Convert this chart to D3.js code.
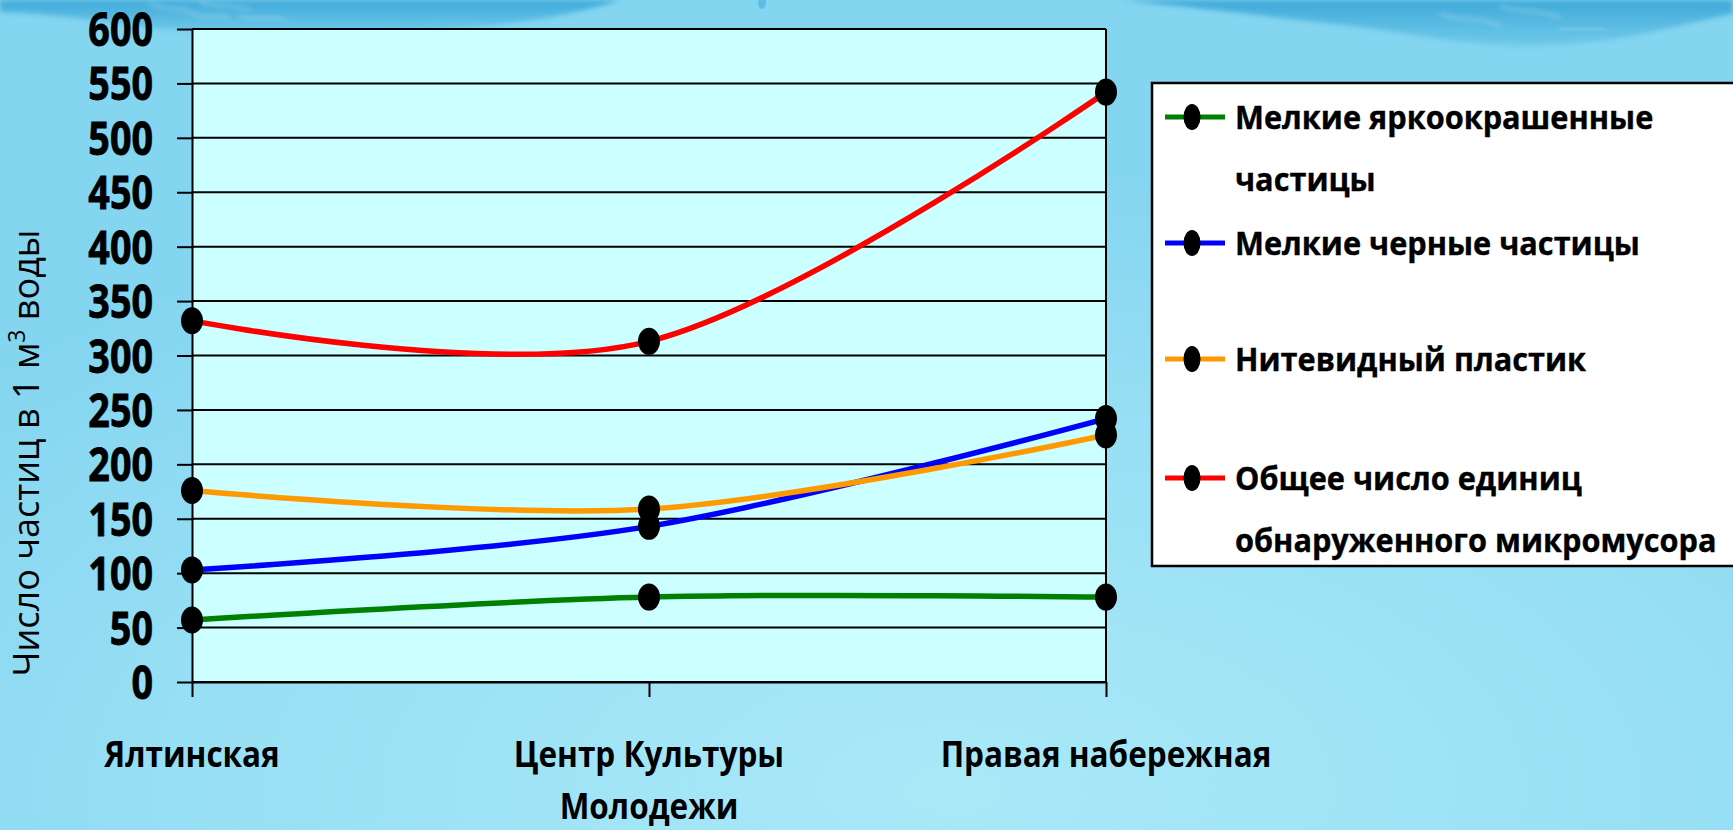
<!DOCTYPE html>
<html><head><meta charset="utf-8">
<script src="https://cdn.jsdelivr.net/npm/d3@7"></script>
<style>html,body{margin:0;padding:0;overflow:hidden;background:#8fdbf2}</style>
</head><body><svg id="c" width="1733" height="830"></svg>
<script>
// ---------- data ----------
const categories = ["Ялтинская", "Центр Культуры Молодежи", "Правая набережная"];
const categoryLabelLines = [["Ялтинская"], ["Центр Культуры", "Молодежи"], ["Правая набережная"]];
const seriesNames = ["Мелкие яркоокрашенные частицы", "Мелкие черные частицы", "Нитевидный пластик", "Общее число единиц обнаруженного микромусора"];
const legendLabelLines = [["Мелкие яркоокрашенные", "частицы"], ["Мелкие черные частицы"], ["Нитевидный пластик"], ["Общее число единиц", "обнаруженного микромусора"]];
const seriesColors = ["#008000", "#0000ff", "#ff9900", "#ff0000"];
const brightParticles = [57, 78, 78];
const blackParticles = [103, 143, 242];
const fiberPlastic = [176, 159, 227];
const totalDebris = [332, 313, 542];
const yTicks = [0, 50, 100, 150, 200, 250, 300, 350, 400, 450, 500, 550, 600];
const yTitleMain = "Число частиц в 1 м";
const yTitleSup = "3";
const yTitleEnd = " воды";

const seriesValues = [brightParticles, blackParticles, fiberPlastic, totalDebris];

// ---------- setup ----------
const W = 1733, H = 830;
const svg = d3.select("#c");
const FONT = "'Open Sans', 'Noto Sans', 'DejaVu Sans', sans-serif";

const x = d3.scalePoint().domain(categories).range([192, 1106]);
const y = d3.scaleLinear().domain([0, 600]).range([682, 29]);
const xL = x(categories[0]), xR = x(categories[categories.length - 1]);

// ---------- background ----------
const defs = svg.append("defs");
const bg = defs.append("radialGradient").attr("id", "bg").attr("cx", "0.55").attr("cy", "0.95").attr("r", "0.75");
bg.append("stop").attr("offset", "0").attr("stop-color", "#a9e9f8");
bg.append("stop").attr("offset", "0.6").attr("stop-color", "#97dff4");
bg.append("stop").attr("offset", "1").attr("stop-color", "#84d5f0");
svg.append("rect").attr("width", W).attr("height", H).attr("fill", "url(#bg)");

const wave = defs.append("linearGradient").attr("id", "wave").attr("x1", 0).attr("y1", 0).attr("x2", 0).attr("y2", 1);
wave.append("stop").attr("offset", "0").attr("stop-color", "#2f9fd3");
wave.append("stop").attr("offset", "1").attr("stop-color", "#6cc8ea");
const blur = defs.append("filter").attr("id", "soft").attr("x", "-10%").attr("y", "-50%").attr("width", "120%").attr("height", "200%");
blur.append("feGaussianBlur").attr("stdDeviation", 2.5);

svg.append("path").attr("fill", "url(#wave)").attr("opacity", 0.8).attr("filter", "url(#soft)")
  .attr("d", "M0,0 L0,12 C50,14 100,20 150,28 C230,36 330,34 430,30 C510,26 570,16 620,0 Z");
svg.append("path").attr("fill", "url(#wave)").attr("opacity", 0.8).attr("filter", "url(#soft)")
  .attr("d", "M1120,0 C1200,8 1280,18 1350,26 C1420,34 1470,48 1540,46 C1620,44 1680,24 1733,14 L1733,0 Z");
svg.append("ellipse").attr("cx", 762).attr("cy", 3).attr("rx", 4).attr("ry", 6).attr("fill", "#5fbde3");
// foam highlights
const foam = [
  "M150,4 C165,10 180,6 195,14 C205,20 215,12 228,18",
  "M200,2 C215,8 235,4 250,10",
  "M240,16 C255,22 268,14 285,20",
  "M1440,14 C1460,22 1480,16 1500,26",
  "M1500,6 C1520,14 1540,8 1560,18",
  "M1560,28 C1575,32 1590,26 1605,30"
];
svg.append("g").selectAll("path").data(foam).join("path").attr("d", d => d)
  .attr("fill", "none").attr("stroke", "#ffffff").attr("stroke-width", 2)
  .attr("stroke-linecap", "round").attr("opacity", 0.35).attr("filter", "url(#soft)");

// ---------- plot area ----------
svg.append("rect").attr("x", xL).attr("y", y(600)).attr("width", xR - xL).attr("height", y(0) - y(600))
  .attr("fill", "#ccffff");

// gridlines
svg.append("g").selectAll("line").data(yTicks).join("line")
  .attr("x1", xL).attr("x2", xR).attr("y1", d => y(d)).attr("y2", d => y(d))
  .attr("stroke", "#000").attr("stroke-width", 2);
// right border
svg.append("line").attr("x1", xR).attr("x2", xR).attr("y1", y(600)).attr("y2", y(0))
  .attr("stroke", "#000").attr("stroke-width", 2);

// y axis
const yAxis = svg.append("g").attr("transform", `translate(${xL},0)`)
  .call(d3.axisLeft(y).tickValues(yTicks).tickSize(15).tickSizeOuter(0).tickPadding(0));
yAxis.select(".domain").attr("stroke", "#000").attr("stroke-width", 2);
yAxis.selectAll(".tick line").attr("stroke", "#000").attr("stroke-width", 2);
yAxis.attr("font-family", FONT).attr("font-size", 46);
yAxis.selectAll(".tick text")
  .attr("x", 0).attr("dy", null).attr("fill", "#000").attr("font-weight", 700)
  .attr("stroke", "#000").attr("stroke-width", 0.8)
  .attr("text-anchor", "end")
  .attr("transform", `translate(${153 - xL},16.5) scale(0.82,1)`);

// x axis
const xAxis = svg.append("g").attr("transform", `translate(0,${y(0)})`)
  .call(d3.axisBottom(x).tickSize(15).tickSizeOuter(0).tickFormat(""));
xAxis.select(".domain").attr("stroke", "#000").attr("stroke-width", 2);
xAxis.selectAll(".tick line").attr("stroke", "#000").attr("stroke-width", 2);

categories.forEach((c, i) => {
  categoryLabelLines[i].forEach((ln, j) => {
    svg.append("text")
      .attr("transform", `translate(${x(c)},${767 + j * 52}) scale(0.9,1)`)
      .attr("text-anchor", "middle").attr("font-family", FONT).attr("font-weight", 700)
      .attr("font-size", 35).attr("fill", "#000").text(ln);
  });
});

// y title
const yt = svg.append("text")
  .attr("transform", "translate(39,453) rotate(-90)")
  .attr("text-anchor", "middle").attr("font-family", FONT).attr("font-weight", 400)
  .attr("font-size", 36).attr("fill", "#000");
yt.append("tspan").text(yTitleMain);
yt.append("tspan").attr("dy", -14).attr("font-size", 23).text(yTitleSup);
yt.append("tspan").attr("dy", 14).text(yTitleEnd);

// ---------- series ----------
const line = d3.line().x((d, i) => x(categories[i])).y(d => y(d)).curve(d3.curveCardinal.tension(0));
seriesValues.forEach((vals, s) => {
  svg.append("path").attr("d", line(vals)).attr("fill", "none")
    .attr("stroke", seriesColors[s]).attr("stroke-width", 5.5)
    .attr("stroke-linejoin", "round").attr("stroke-linecap", "round");
});
seriesValues.forEach((vals, s) => {
  svg.append("g").selectAll("ellipse").data(vals).join("ellipse")
    .attr("cx", (d, i) => x(categories[i])).attr("cy", d => y(d))
    .attr("rx", 11).attr("ry", 13.5).attr("fill", "#000");
});

// ---------- legend ----------
const legendLineY = [117, 243, 359, 478];
const lg = svg.append("g");
lg.append("rect").attr("x", 1152).attr("y", 83).attr("width", 620).attr("height", 566 - 83)
  .attr("fill", "#ffffff").attr("stroke", "#000").attr("stroke-width", 2.5);
seriesNames.forEach((n, s) => {
  const ly = legendLineY[s];
  lg.append("line").attr("x1", 1165).attr("x2", 1225).attr("y1", ly).attr("y2", ly)
    .attr("stroke", seriesColors[s]).attr("stroke-width", 5);
  lg.append("ellipse").attr("cx", 1192).attr("cy", ly).attr("rx", 8.5).attr("ry", 13).attr("fill", "#000");
  legendLabelLines[s].forEach((ln, j) => {
    lg.append("text")
      .attr("transform", `translate(1235,${ly + 11.7 + j * 62}) scale(0.93,1)`)
      .attr("font-family", FONT).attr("font-weight", 700).attr("font-size", 33)
      .attr("stroke", "#000").attr("stroke-width", 0.4)
      .attr("fill", "#000").text(ln);
  });
});
</script></body></html>
